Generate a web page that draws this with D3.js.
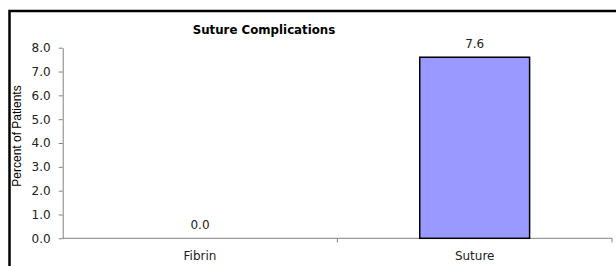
<!DOCTYPE html>
<html>
<head>
<meta charset="utf-8">
<script src="https://cdn.jsdelivr.net/npm/d3@7"></script>
<style>
  body { margin: 0; background: #fff; }
  svg { display: block; }
  .axis path, .axis line { stroke: #808080; }
  .axis text { font-family: "DejaVu Sans", Verdana, sans-serif; font-size: 12px; fill: #222; }
</style>
</head>
<body>
<div id="chart"></div>
<script>
const width = 616,
    height = 266;

// Data
const categories = ["Fibrin", "Suture"];
const values = [0.0, 7.6];
const yTicks = [0, 1, 2, 3, 4, 5, 6, 7, 8];

const margin = { top: 47.7, right: 4, bottom: 27.7, left: 62.7 };

let svg = d3.select('#chart').append('svg')
    .attr('width', width)
    .attr('height', height);

// Outer frame (right and bottom edges fall outside the picture)
svg.append("rect")
    .attr("x", 9.5)
    .attr("y", 11)
    .attr("width", width + 20)
    .attr("height", height + 20)
    .attr("fill", "none")
    .attr("stroke", "#000")
    .attr("stroke-width", 2.5);

let x = d3.scaleBand()
    .domain(categories)
    .range([margin.left, 612])
    .paddingInner(0)
    .paddingOuter(0);

let y = d3.scaleLinear()
    .domain([0, 8])
    .range([height - margin.bottom, margin.top]);

// Y axis
svg.append("g")
    .attr("class", "axis")
    .attr("transform", `translate(${margin.left},0)`)
    .call(d3.axisLeft(y).tickValues(yTicks).tickFormat(d3.format(".1f")).tickSize(4).tickSizeOuter(0).tickPadding(8));

// X axis: ticks sit on the category boundaries
let xAxis = svg.append("g")
    .attr("class", "axis")
    .attr("transform", `translate(0,${y(0)})`);

xAxis.append("line")
    .attr("x1", x.range()[0])
    .attr("x2", x.range()[1])
    .attr("stroke", "#808080");

xAxis.selectAll(".xtick")
    .data(categories.map(c => x(c)).slice(1).concat([x.range()[1]]))
    .enter()
    .append("line")
    .attr("x1", d => d)
    .attr("x2", d => d)
    .attr("y1", 0)
    .attr("y2", 4)
    .attr("stroke", "#808080");

xAxis.selectAll(".xlabel")
    .data(categories)
    .enter()
    .append("text")
    .attr("x", d => x(d) + x.bandwidth() / 2)
    .attr("y", 22)
    .attr("text-anchor", "middle")
    .text(d => d);

// Bars
const barFrac = 0.4;
svg.append("g")
    .selectAll("rect")
    .data(values)
    .enter()
    .append("rect")
    .attr("x", (d, i) => x(categories[i]) + x.bandwidth() * (1 - barFrac) / 2)
    .attr("width", x.bandwidth() * barFrac)
    .attr("y", d => y(d))
    .attr("height", d => y(0) - y(d))
    .attr("fill", "#9999FF")
    .attr("stroke", d => d > 0 ? "#000" : "none")
    .attr("stroke-width", 1.5);

// Value labels
svg.append("g")
    .selectAll("text")
    .data(values)
    .enter()
    .append("text")
    .attr("x", (d, i) => x(categories[i]) + x.bandwidth() / 2)
    .attr("y", d => y(d) - 9)
    .attr("text-anchor", "middle")
    .style("font-family", '"DejaVu Sans", Verdana, sans-serif')
    .style("font-size", "12px")
    .style("fill", "#222")
    .text(d => d3.format(".1f")(d));

// Title
svg.append("text")
    .attr("x", 264)
    .attr("y", 34)
    .attr("text-anchor", "middle")
    .style("font-family", '"DejaVu Sans", Verdana, sans-serif')
    .style("font-size", "11.8px")
    .style("font-weight", "bold")
    .text("Suture Complications");

// Y axis title
svg.append("text")
    .attr("transform", "translate(21,136) rotate(-90)")
    .attr("text-anchor", "middle")
    .style("font-family", '"Liberation Sans", Arial, sans-serif')
    .style("font-size", "12px")
    .text("Percent of Patients");
</script>
</body>
</html>
